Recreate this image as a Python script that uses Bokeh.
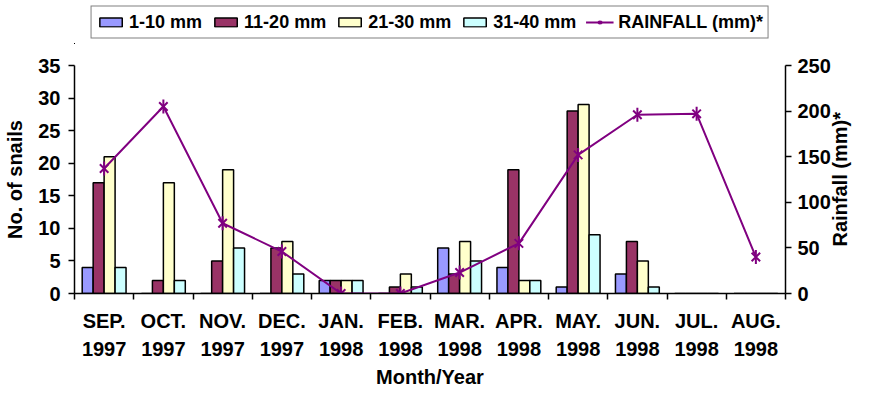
import math
from bokeh.plotting import figure
from bokeh.layouts import column
from bokeh.models import (Range1d, LinearAxis, FixedTicker, Legend, LegendItem,
                          ColumnDataSource)
from bokeh.transform import dodge
from bokeh.embed import file_html
from bokeh.resources import INLINE

# ---- data ----
months = ["SEP.", "OCT.", "NOV.", "DEC.", "JAN.", "FEB.", "MAR.", "APR.",
          "MAY.", "JUN.", "JUL.", "AUG."]
years = ["1997", "1997", "1997", "1997", "1998", "1998", "1998", "1998",
         "1998", "1998", "1998", "1998"]
s_1_10 = [4, 0, 0, 0, 2, 0, 7, 4, 1, 3, 0, 0]
s_11_20 = [17, 2, 5, 7, 2, 1, 3, 19, 28, 8, 0, 0]
s_21_30 = [21, 17, 19, 8, 2, 3, 8, 2, 29, 5, 0, 0]
s_31_40 = [4, 2, 7, 3, 2, 1, 5, 2, 9, 1, 0, 0]
rainfall = [137, 205, 77, 46, 0, 0, 23, 55, 152, 196, 197, 40]
series_names = ["1-10 mm", "11-20 mm", "21-30 mm", "31-40 mm"]
rain_name = "RAINFALL (mm)*"
snail_ticks = [0, 5, 10, 15, 20, 25, 30, 35]
rain_ticks = [0, 50, 100, 150, 200, 250]
x_title = "Month/Year"
left_title = "No. of snails"
right_title = "Rainfall (mm)*"

FONT = "Liberation Sans"
FS = "20px"
colors = ["#9999FF", "#993366", "#FFFFCC", "#CCFFFF"]
RAIN_COLOR = "#800080"

W = 864
LEG_H = 44
H = 397 - LEG_H
BL, BR, BT, BB = 74, 72, 21, 104
FH_EST = 228
RAIN_MAX = 250
SNAIL_MAX = 35

idx = list(range(len(months)))
source = ColumnDataSource(dict(idx=idx, a=s_1_10, b=s_11_20, c=s_21_30,
                               d=s_31_40, rain=rainfall))
bw = 0.185
offsets = [-1.5 * bw, -0.5 * bw, 0.5 * bw, 1.5 * bw]


def draw(fig):
    bars = []
    for col, off, c in zip(["a", "b", "c", "d"], offsets, colors):
        bars.append(fig.vbar(x=dodge("idx", off, range=fig.x_range), top=col,
                             width=bw, source=source, fill_color=c,
                             line_color="black", line_width=1.5))
    ln = fig.line("idx", "rain", source=source, y_range_name="rain",
                  line_color=RAIN_COLOR, line_width=2)
    mx = fig.scatter("idx", "rain", source=source, y_range_name="rain",
                     marker="x", size=12, line_color=RAIN_COLOR, line_width=2)
    md = fig.scatter("idx", "rain", source=source, y_range_name="rain",
                     marker="dash", angle=math.pi / 2, size=14,
                     line_color=RAIN_COLOR, line_width=2)
    return bars, [ln, mx, md]


# ---------------- legend strip ----------------
lf = figure(width=W, height=LEG_H, output_backend="svg", toolbar_location=None,
            tools="", x_range=Range1d(1000, 1001), y_range=Range1d(1000, 1001),
            x_axis_location=None, y_axis_location=None,
            min_border_left=BL, min_border_right=BR, min_border_top=0,
            min_border_bottom=0)
lf.extra_y_ranges = {"rain": Range1d(1000, 1001)}
lf.xgrid.visible = False
lf.ygrid.visible = False
lf.outline_line_color = None
lbars, lrain = draw(lf)
items = [LegendItem(label=n, renderers=[r]) for n, r in zip(series_names, lbars)]
items.append(LegendItem(label=rain_name, renderers=lrain))
legend = Legend(items=items, orientation="horizontal", location="center",
                border_line_color="black", border_line_width=1.5,
                padding=5, spacing=9, label_standoff=5, glyph_width=28,
                glyph_height=11, margin=0,
                label_text_font=FONT, label_text_font_style="bold",
                label_text_font_size="18px", label_text_color="black")
lf.add_layout(legend)

# ---------------- main chart ----------------
p = figure(width=W, height=H, output_backend="svg", toolbar_location=None,
           tools="", x_range=Range1d(-0.5, len(months) - 0.5),
           y_range=Range1d(0, SNAIL_MAX),
           min_border_left=BL, min_border_right=BR, min_border_top=BT,
           min_border_bottom=BB)
p.xgrid.visible = False
p.ygrid.visible = False
p.outline_line_color = None
p.extra_y_ranges = {"rain": Range1d(0, RAIN_MAX)}
draw(p)


def style_axis(ax):
    ax.axis_line_color = "black"
    ax.axis_line_width = 1.5
    ax.major_tick_line_color = "black"
    ax.major_tick_line_width = 1.5
    ax.major_tick_out = 6
    ax.major_tick_in = 0
    ax.minor_tick_line_color = None
    ax.major_label_text_font = FONT
    ax.major_label_text_font_style = "bold"
    ax.major_label_text_font_size = FS
    ax.major_label_text_color = "black"
    ax.axis_label_text_font = FONT
    ax.axis_label_text_font_style = "bold"
    ax.axis_label_text_font_size = FS
    ax.axis_label_text_color = "black"


def title_axis(ax):
    style_axis(ax)
    ax.axis_line_color = None
    ax.major_tick_line_color = None
    ax.major_tick_out = 0


ly = p.yaxis[0]
style_axis(ly)
ly.ticker = FixedTicker(ticks=snail_ticks)
ly.axis_label = left_title
ly.major_label_standoff = 8
ly.axis_label_standoff = 9

ry = LinearAxis(y_range_name="rain", ticker=FixedTicker(ticks=rain_ticks))
style_axis(ry)
ry.major_label_standoff = 6
p.add_layout(ry, "right")

# right-hand title, drawn as a rotated label of an extra, line-less axis
title_len = 134  # px, length of the rotated title text
r_pos = RAIN_MAX / 2 - (title_len / 2) / FH_EST * RAIN_MAX
ry2 = LinearAxis(y_range_name="rain", ticker=FixedTicker(ticks=[r_pos]))
title_axis(ry2)
ry2.major_label_overrides = {r_pos: right_title}
ry2.major_label_orientation = math.pi / 2
ry2.major_label_standoff = 6
p.add_layout(ry2, "right")

bx = p.xaxis[0]
style_axis(bx)
bx.ticker = FixedTicker(ticks=idx, minor_ticks=[i - 0.5 for i in range(len(months) + 1)])
bx.major_tick_line_color = None
bx.major_tick_out = 0
bx.minor_tick_line_color = "black"
bx.minor_tick_line_width = 1.5
bx.minor_tick_out = 6
bx.minor_tick_in = 0
bx.major_label_overrides = {i: f"{m}\n{y}" for i, m, y in zip(idx, months, years)}
bx.major_label_standoff = 10
bx.major_label_text_line_height = 1.3

x_mid = (len(months) - 1) / 2
bx2 = LinearAxis(ticker=FixedTicker(ticks=[x_mid]))
title_axis(bx2)
bx2.major_label_overrides = {x_mid: x_title}
bx2.major_label_standoff = 2
p.add_layout(bx2, "below")

layout = column(lf, p, spacing=0)
open("out.html", "w").write(file_html(layout, INLINE))
